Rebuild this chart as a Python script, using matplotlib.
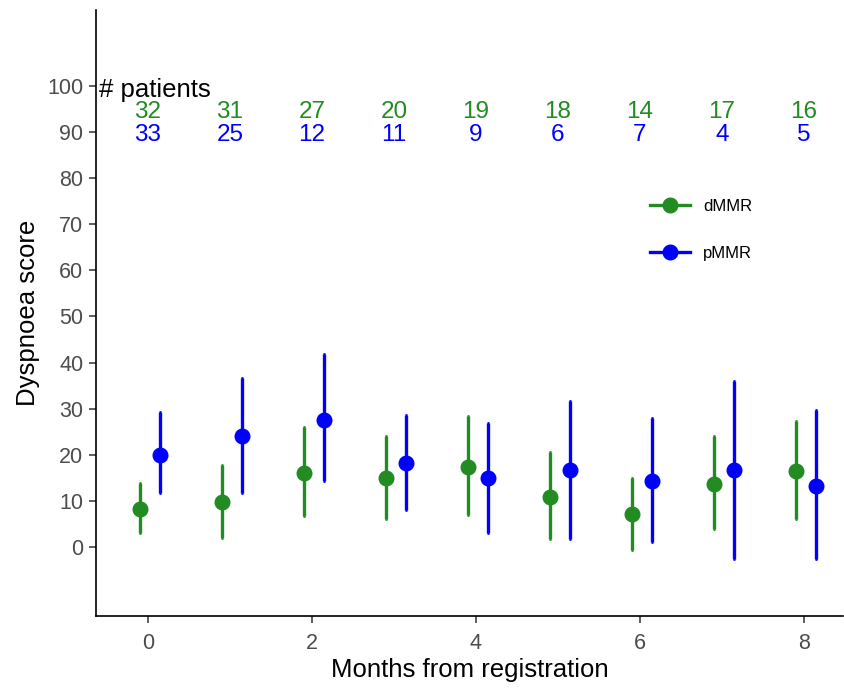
import matplotlib
matplotlib.use("Agg")
import matplotlib.pyplot as plt
from matplotlib.lines import Line2D
import numpy as np

plt.rcParams['font.family'] = ['Liberation Sans', 'DejaVu Sans']

months = [0, 1, 2, 3, 4, 5, 6, 7, 8]
dmmr_mean = [8.2, 9.8, 16.1, 15.0, 17.4, 10.9, 7.1, 13.7, 16.5]
dmmr_low = [3.1, 1.9, 6.6, 6.1, 6.9, 1.7, -0.7, 3.9, 6.1]
dmmr_high = [13.8, 17.7, 26.0, 24.1, 28.4, 20.5, 15.0, 24.1, 27.3]
pmmr_mean = [20.0, 24.1, 27.5, 18.1, 14.9, 16.6, 14.2, 16.6, 13.3]
pmmr_low = [11.6, 11.6, 14.2, 7.9, 3.1, 1.7, 1.0, -2.7, -2.7]
pmmr_high = [29.3, 36.7, 41.9, 28.7, 26.8, 31.7, 28.0, 36.0, 29.7]
dmmr_n = [32, 31, 27, 20, 19, 18, 14, 17, 16]
pmmr_n = [33, 25, 12, 11, 9, 6, 7, 4, 5]

green = '#228B22'
blue = '#0000FF'

fig = plt.figure(figsize=(8.45, 6.88), dpi=100)
ax = fig.add_axes([0.1136, 0.1047, 0.8844, 0.8808])

m = np.array(months, dtype=float)
handles = []
for mean, lo, hi, col, off, lab in [
        (dmmr_mean, dmmr_low, dmmr_high, green, -0.1, 'dMMR'),
        (pmmr_mean, pmmr_low, pmmr_high, blue, 0.15, 'pMMR')]:
    mean = np.array(mean); lo = np.array(lo); hi = np.array(hi)
    ax.errorbar(m + off, mean, yerr=[mean - lo, hi - mean], fmt='o', color=col,
                ecolor=col, elinewidth=2.4, capsize=1.0, capthick=2.0,
                markersize=10.5)
    handles.append(Line2D([0], [0], color=col, lw=2.4, marker='o',
                          markersize=10.5, label=lab))

for x, n1, n2 in zip(months, dmmr_n, pmmr_n):
    ax.text(x, 94.4, str(n1), color=green, fontsize=17.5, ha='center', va='center')
    ax.text(x, 89.3, str(n2), color=blue, fontsize=17.5, ha='center', va='center')
ax.text(-0.6, 99.2, '# patients', color='black', fontsize=18.5, ha='left', va='center')

ax.set_xlim(-0.634, 8.48)
ax.set_ylim(-15, 116.5)
ax.set_xticks([0, 2, 4, 6, 8])
ax.set_yticks(range(0, 101, 10))
ax.tick_params(axis='both', colors='#333333', labelcolor='#4d4d4d', labelsize=15.5,
               length=5, width=1.1)
ax.tick_params(axis='y', pad=4)
ax.tick_params(axis='x', pad=7)
for s in ['top', 'right']:
    ax.spines[s].set_visible(False)
for s in ['left', 'bottom']:
    ax.spines[s].set_linewidth(1.2)
    ax.spines[s].set_color('black')

ax.set_xlabel('Months from registration', fontsize=18.5, labelpad=3)
ax.set_ylabel('Dyspnoea score', fontsize=18.5, labelpad=5)

fig.legend(handles=handles, loc='center left', bbox_to_anchor=(650 / 845, 1 - 230 / 688),
           bbox_transform=fig.transFigure, frameon=False, fontsize=12,
           handlelength=2.4, handletextpad=0.8, labelspacing=1.95,
           borderpad=0, borderaxespad=0, numpoints=1)

fig.savefig('out.png', dpi=100)
